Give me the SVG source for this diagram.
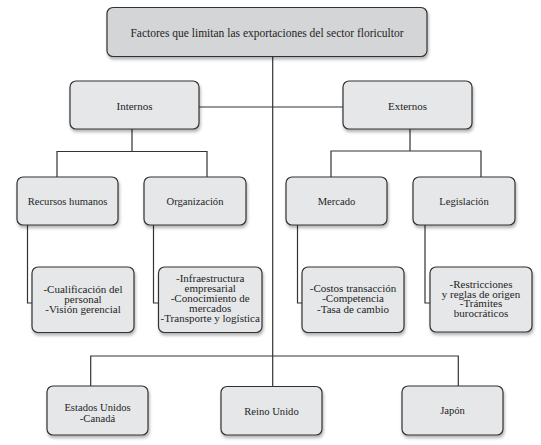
<svg xmlns="http://www.w3.org/2000/svg" width="541" height="445" viewBox="0 0 541 445">
<defs>
<filter id="sh" x="-10%" y="-10%" width="125%" height="135%">
<feDropShadow dx="1" dy="2.5" stdDeviation="1.6" flood-color="#000" flood-opacity="0.3"/>
</filter>
<style>
.box{fill:#e6e7e9;stroke:#333;stroke-width:1.2;filter:url(#sh)}
.top{fill:#d4d5d7}
.conn{fill:none;stroke:#333;stroke-width:1.2}
text{font-family:"Liberation Serif","Times New Roman",serif;fill:#1e1e1e;text-anchor:middle}
.t1{font-size:11.5px}
.t2{font-size:11px}
.t3{font-size:10.6px}
</style>
</defs>
<rect width="541" height="445" fill="#fff"/>
<g id="connectors">
<path class="conn" d="M272.7 56 V386.5"/>
<path class="conn" d="M199 107 H343"/>
<path class="conn" d="M132 129 V151.5 M57 177 V151.5 H207 V177"/>
<path class="conn" d="M410 129 V151 M331 177 V151 H481 V177"/>
<path class="conn" d="M27.5 225 V303 H32"/>
<path class="conn" d="M153.5 225 V303 H158.5"/>
<path class="conn" d="M297.5 225 V303 H302"/>
<path class="conn" d="M425 225 V303 H430"/>
<path class="conn" d="M90.7 386 V356 H458.3 V386"/>
</g>
<g id="n-root"><rect class="box top" x="107" y="7.5" width="320" height="49" rx="6"/><text class="t1" x="267" y="37">Factores que limitan las exportaciones del sector floricultor</text></g>
<g id="n-internos"><rect class="box" x="70" y="81" width="129" height="48" rx="6"/><text class="t2" x="134.5" y="110">Internos</text></g>
<g id="n-externos"><rect class="box" x="343" y="81" width="129" height="48" rx="6"/><text class="t2" x="407.5" y="110">Externos</text></g>
<g id="n-recursos"><rect class="box" x="17" y="177" width="101" height="48" rx="6"/><text class="t3" x="67.5" y="205">Recursos humanos</text></g>
<g id="n-organizacion"><rect class="box" x="144" y="177" width="102" height="48" rx="6"/><text class="t3" x="195" y="205">Organización</text></g>
<g id="n-mercado"><rect class="box" x="286" y="177" width="101" height="48" rx="6"/><text class="t3" x="336.5" y="205">Mercado</text></g>
<g id="n-legislacion"><rect class="box" x="413" y="177" width="102" height="48" rx="6"/><text class="t3" x="464" y="205">Legislación</text></g>
<g id="n-recursos-det"><rect class="box" x="32" y="267" width="102" height="65.5" rx="6"/><text class="t2" x="83" y="292.7">-Cualificación del</text><text class="t2" x="83" y="302.7">personal</text><text class="t2" x="83" y="312.7">-Visión gerencial</text></g>
<g id="n-organizacion-det"><rect class="box" x="158.5" y="267" width="103.5" height="65.5" rx="6"/><text class="t2" x="210.2" y="281.5">-Infraestructura</text><text class="t2" x="210.2" y="291.5">empresarial</text><text class="t2" x="210.2" y="301.5">-Conocimiento de</text><text class="t2" x="210.2" y="311.5">mercados</text><text class="t2" x="210.2" y="321.8">-Transporte y logística</text></g>
<g id="n-mercado-det"><rect class="box" x="302" y="267" width="102" height="65.5" rx="6"/><text class="t2" x="353" y="292">-Costos transacción</text><text class="t2" x="353" y="302">-Competencia</text><text class="t2" x="353" y="312.5">-Tasa de cambio</text></g>
<g id="n-legislacion-det"><rect class="box" x="430" y="267" width="102" height="65" rx="6"/><text class="t2" x="481" y="288">-Restricciones</text><text class="t2" x="481" y="297.5">y reglas de origen</text><text class="t2" x="481" y="307">-Trámites</text><text class="t2" x="481" y="317">burocráticos</text></g>
<g id="n-eeuu"><rect class="box" x="47" y="386" width="101" height="49" rx="6"/><text class="t3" x="97.5" y="411">Estados Unidos</text><text class="t3" x="97.5" y="422.3">-Canadá</text></g>
<g id="n-reino"><rect class="box" x="221" y="386.5" width="101" height="48.5" rx="6"/><text class="t3" x="271.5" y="415">Reino Unido</text></g>
<g id="n-japon"><rect class="box" x="402" y="386" width="101" height="49" rx="6"/><text class="t3" x="452.5" y="413.5">Japón</text></g>
</svg>
